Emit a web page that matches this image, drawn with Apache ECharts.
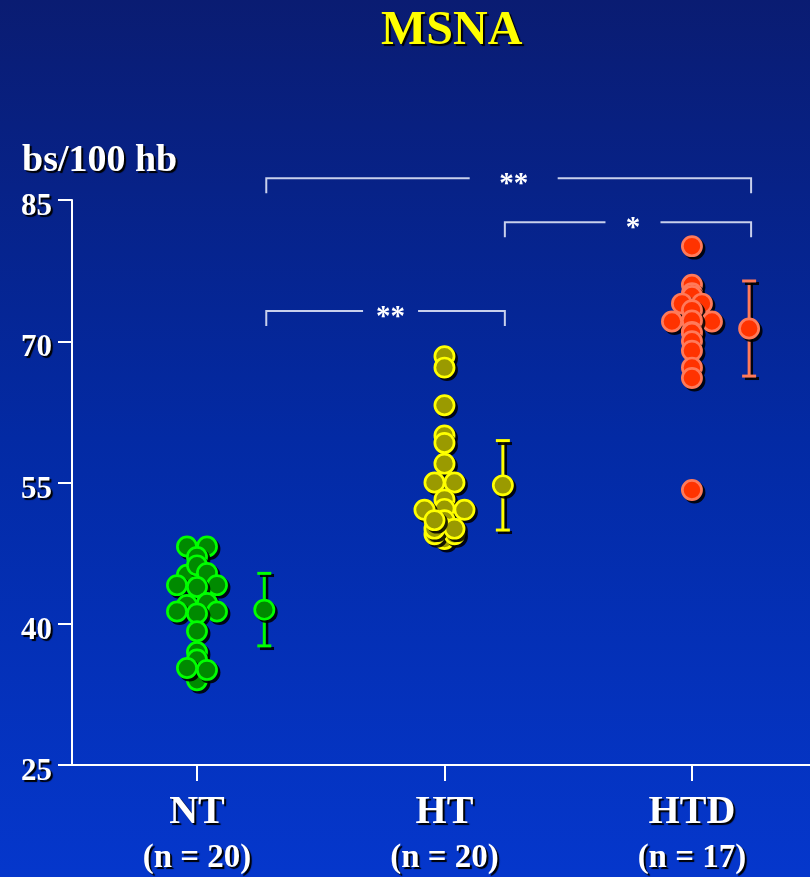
<!DOCTYPE html>
<html><head><meta charset="utf-8">
<script src="https://cdn.jsdelivr.net/npm/echarts@6/dist/echarts.min.js"></script>
<style>html,body{margin:0;padding:0;background:#0636c8}#c{width:810px;height:877px}</style>
</head><body><div id="c"></div>
<script>
// ---------- DATA ----------
const categories = ['NT', 'HT', 'HTD'];
const groupSizes = ['(n = 20)', '(n = 20)', '(n = 17)'];
const yTicks = [25, 40, 55, 70, 85];

const ntValues = [48.2, 48.2, 47.1, 45.2, 46.2, 45.4, 44.1, 44.1, 43.9, 42.0, 41.3, 42.2, 41.3, 41.1, 39.2, 37.0, 36.2, 34.0, 35.3, 35.1];
const ntLanes  = [-1,   1,    0,    -1,   0,    1,    -2,   2,    0,    -1,   -2,   1,    2,    0,    0,    0,    0,    0,    -1,   1];

const htValues = [68.4, 67.2, 63.2, 60.0, 59.2, 57.0, 55.0, 55.0, 53.2, 52.2, 51.0, 50.1, 49.0, 52.1, 52.1, 49.5, 49.5, 50.1, 50.1, 51.0];
const htLanes  = [0,    0,    0,    0,    0,    0,    -1,   1,    0,    0,    0,    0,    0,    -2,   2,    -1,   1,    -1,   1,    -1];

const htdValues = [80.1, 76.0, 75.1, 74.8, 74.0, 74.0, 73.3, 72.1, 72.1, 72.2, 71.0, 70.9, 70.0, 69.0, 67.2, 66.1, 54.2];
const htdLanes  = [0,    0,    0,    0,    -1,   1,    0,    -2,   2,    0,    0,    0,    0,    0,    0,    0,    0];

const means = [41.5, 54.7, 71.35];
const sds = [3.85, 4.75, 5.05];

// significance brackets: from group, to group, level (y value), label
const bracketFrom = [0, 1, 0];
const bracketTo = [2, 2, 1];
const bracketY = [87.3, 82.65, 73.2];
const bracketLabels = ['**', '*', '**'];

// ---------- STYLE / LAYOUT ----------
const FONT = '"Liberation Serif", "Times New Roman", serif';
const fills = ['#008a00', '#9a9a00', '#ff3300'];
const edges = ['#00ff00', '#ffff00', '#ff7a5a'];
const LANE = 0.0404;
const MEAN_OFF = [0.272, 0.236, 0.231];
const BRACKET_DROP = 15;
const BRACKET_HALFGAP = [44, 27.5, 27.5];
const R = 9.6, BW = 2.7, SH = 2.5;
const shadow = {textShadowColor: '#000', textShadowOffsetX: 2, textShadowOffsetY: 2, textShadowBlur: 1};
const lineShadow = {shadowColor: 'rgba(0,0,0,0.9)', shadowOffsetX: 2.5, shadowOffsetY: 2.5, shadowBlur: 0.5};

function dot(cx, cy, g) {
  return [
    {type: 'circle', shape: {cx: cx + SH, cy: cy + SH, r: R + BW / 2}, style: {fill: 'rgba(0,0,0,0.88)'}},
    {type: 'circle', shape: {cx: cx, cy: cy, r: R}, style: {fill: fills[g], stroke: edges[g], lineWidth: BW}}
  ];
}

const groups = [[ntValues, ntLanes], [htValues, htLanes], [htdValues, htdLanes]];

const series = [];
groups.forEach(([vals, lanes], gi) => {
  series.push({
    type: 'custom', name: categories[gi], silent: true, z: 3, clip: false,
    data: vals.map((v, k) => [gi + lanes[k] * LANE, v, gi]),
    renderItem: (params, api) => {
      const p = api.coord([api.value(0), api.value(1)]);
      return {type: 'group', children: dot(p[0], p[1], api.value(2))};
    }
  });
});

series.push({
  type: 'custom', silent: true, z: 4, clip: false,
  data: means.map((m, i) => [i + MEAN_OFF[i], m, sds[i], i]),
  renderItem: (params, api) => {
    const x = api.value(0), m = api.value(1), s = api.value(2), i = api.value(3);
    const top = api.coord([x, m + s]);
    const bot = api.coord([x, m - s]);
    const mid = api.coord([x, m]);
    const st = Object.assign({stroke: edges[i], lineWidth: 3}, lineShadow);
    return {type: 'group', children: [
      {type: 'line', shape: {x1: top[0], y1: top[1], x2: bot[0], y2: bot[1]}, style: st},
      {type: 'line', shape: {x1: top[0] - 7, y1: top[1], x2: top[0] + 7, y2: top[1]}, style: st},
      {type: 'line', shape: {x1: bot[0] - 7, y1: bot[1], x2: bot[0] + 7, y2: bot[1]}, style: st}
    ].concat(dot(mid[0], mid[1], i))};
  }
});

series.push({
  type: 'custom', silent: true, z: 5, clip: false,
  data: bracketFrom.map((f, k) => [f + MEAN_OFF[f] + 0.008, bracketTo[k] + MEAN_OFF[bracketTo[k]] + 0.008, bracketY[k], k]),
  renderItem: (params, api) => {
    const k = api.value(3);
    const p1 = api.coord([api.value(0), api.value(2)]);
    const p2 = api.coord([api.value(1), api.value(2)]);
    const y = p1[1];
    const tx = (p1[0] + p2[0]) / 2 + 5;
    const hg = BRACKET_HALFGAP[k];
    const st = {stroke: '#c8d0ec', lineWidth: 2, fill: null};
    return {type: 'group', children: [
      {type: 'polyline', shape: {points: [[p1[0], y + BRACKET_DROP], [p1[0], y], [tx - hg, y]]}, style: st},
      {type: 'polyline', shape: {points: [[tx + hg, y], [p2[0], y], [p2[0], y + BRACKET_DROP]]}, style: st},
      {type: 'text', x: tx, y: y + 6, style: {text: bracketLabels[k], fill: '#fff', font: 'bold 29px ' + FONT,
        textAlign: 'center', textVerticalAlign: 'middle', shadowColor: '#000', shadowOffsetX: 1.5, shadowOffsetY: 1.5, shadowBlur: 1}}
    ]};
  }
});

const chart = echarts.init(document.getElementById('c'), null, {renderer: 'canvas'});
chart.setOption({
  animation: false,
  backgroundColor: {type: 'linear', x: 0, y: 0, x2: 0, y2: 1,
    colorStops: [{offset: 0, color: '#0a1c72'}, {offset: 0.5, color: '#032aa4'}, {offset: 1, color: '#0537cc'}]},
  title: [
    {text: 'MSNA', left: 376, top: 3,
      textStyle: Object.assign({color: '#ffff00', fontSize: 48, fontWeight: 'bold', fontFamily: FONT}, shadow)},
    {text: 'bs/100 hb', left: 17, top: 137,
      textStyle: Object.assign({color: '#ffffff', fontSize: 38, fontWeight: 'bold', fontFamily: FONT}, shadow)}
  ],
  grid: {left: 72, right: 0, top: 200, bottom: 112, containLabel: false},
  xAxis: {
    type: 'value', min: -0.505, max: 2.477,
    splitLine: {show: false},
    axisLine: {show: true, onZero: false, lineStyle: {color: '#ffffff', width: 2}},
    axisTick: {show: true, inside: false, length: 16, customValues: [0, 1, 2], lineStyle: {color: '#ffffff', width: 2}},
    axisLabel: {
      show: true, margin: 25, customValues: [0, 1, 2],
      formatter: v => {
        const i = Math.round(v);
        return '{a|' + categories[i] + '}\n{b|' + groupSizes[i] + '}';
      },
      rich: {
        a: Object.assign({color: '#fff', fontSize: 40, fontWeight: 'bold', fontFamily: FONT, lineHeight: 46}, shadow),
        b: Object.assign({color: '#fff', fontSize: 33, fontWeight: 'bold', fontFamily: FONT, lineHeight: 44}, shadow)
      }
    }
  },
  yAxis: {
    type: 'value', min: 25, max: 85,
    splitLine: {show: false},
    axisLine: {show: true, onZero: false, lineStyle: {color: '#ffffff', width: 2}},
    axisTick: {show: true, length: 14, customValues: yTicks, lineStyle: {color: '#ffffff', width: 2}},
    axisLabel: Object.assign({show: true, margin: 20, customValues: yTicks, color: '#fff', fontSize: 31,
      fontWeight: 'bold', fontFamily: FONT, verticalAlign: 'top', lineHeight: 14}, shadow)
  },
  series: series
});
</script></body></html>
